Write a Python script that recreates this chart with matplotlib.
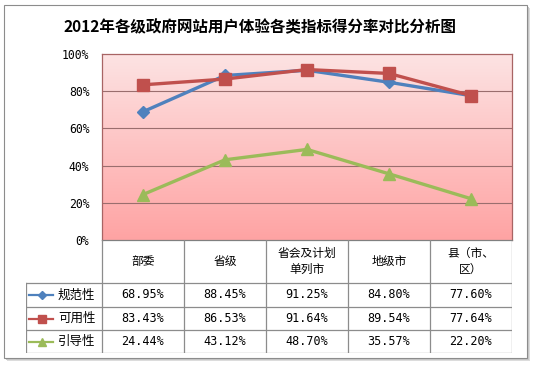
import numpy as np
import matplotlib
matplotlib.use('Agg')
import matplotlib.pyplot as plt
from matplotlib.patches import Rectangle

plt.rcParams['font.family'] = ['Noto Sans CJK SC', 'DejaVu Sans']

title = '2012年各级政府网站用户体验各类指标得分率对比分析图'
categories = ['部委', '省级', '省会及计划\n单列市', '地级市', '县（市、\n区）']
series_names = ['规范性', '可用性', '引导性']
guifan = [68.95, 88.45, 91.25, 84.80, 77.60]
keyong = [83.43, 86.53, 91.64, 89.54, 77.64]
yindao = [24.44, 43.12, 48.70, 35.57, 22.20]
yticks = [0, 20, 40, 60, 80, 100]

colors = ['#4F81BD', '#C0504D', '#9BBB59']
markers = ['D', 's', '^']
msizes = [6, 8, 8]

W, H = 534, 368
fig = plt.figure(figsize=(W / 100, H / 100), dpi=100)
fig.patch.set_facecolor('white')


def box(x0, y0, x1, y1):
    # pixel box (top-left origin) -> figure fraction rect
    return [x0 / W, 1 - y1 / H, (x1 - x0) / W, (y1 - y0) / H]


# outer frame with a soft shadow
for k, (off, c) in enumerate([(3, '#dcdcdc'), (2, '#c8c8c8'), (1, '#acacac')]):
    fig.patches.append(Rectangle((4 / W + off / W, 1 - 358 / H - off / H), 523 / W, 353 / H,
                                 transform=fig.transFigure, facecolor=c, edgecolor='none',
                                 zorder=-5 + k))
fig.patches.append(Rectangle((4 / W, 1 - 358 / H), 523 / W, 353 / H, transform=fig.transFigure,
                             facecolor='white', edgecolor='#8c8c8c', lw=0.8, zorder=-1))

fig.text(260 / W, 1 - 27 / H, title, ha='center', va='center', fontsize=11.2, fontweight='bold')

# main plot area
ax = fig.add_axes(box(102, 54, 512, 240))
x = np.arange(len(categories))
ax.set_xlim(-0.5, len(categories) - 0.5)

grad = np.linspace(0, 1, 256).reshape(-1, 1)
top = np.array([0.99, 0.89, 0.89])
bot = np.array([1.0, 0.64, 0.64])
img = top * (1 - grad[..., None]) + bot * grad[..., None]
ax.imshow(img, extent=(-0.5, len(categories) - 0.5, 0, 100), origin='upper',
          aspect='auto', zorder=0)
ax.set_ylim(0, 100)

for yv in yticks[1:-1]:
    ax.axhline(yv, color='#9a6e6e', lw=0.8, zorder=1)

for vals, c, m, ms in zip([guifan, keyong, yindao], colors, markers, msizes):
    ax.plot(x, vals, color=c, lw=2.4, marker=m, markersize=ms, markeredgecolor=c,
            markerfacecolor=c, zorder=3)

for s in ax.spines.values():
    s.set_color('#a86464')
    s.set_linewidth(0.9)
ax.spines['bottom'].set_color('#808080')
ax.set_xticks([])
ax.set_yticks(yticks)
ax.set_yticklabels([f'{v}%' for v in yticks], fontsize=8.3, family=['DejaVu Sans Mono'])
ax.tick_params(axis='y', length=0, pad=9)

# data table below the plot
tab = fig.add_axes(box(26, 240, 512, 353))
left = -0.5 - 76 / 82
tab.set_xlim(left, len(categories) - 0.5)
tab.set_ylim(113, 0)
tab.axis('off')
lc = '#8c8c8c'
rows_y = [43, 67, 90, 113]
for xv in np.arange(-0.5, len(categories), 1.0):
    tab.plot([xv, xv], [0, 113], color=lc, lw=0.9)
tab.plot([left, left], [43, 113], color=lc, lw=0.9)
for yv in rows_y:
    tab.plot([left, len(categories) - 0.5], [yv, yv], color=lc, lw=0.9)

for i, cat in enumerate(categories):
    tab.text(i, 21.5, cat, ha='center', va='center', fontsize=8.5, linespacing=1.35)

row_c = [55, 78.5, 101.5]
key_ms = [4, 5.5, 5.5]
for r, (name, vals, c, m, ms) in enumerate(zip(series_names, [guifan, keyong, yindao],
                                               colors, markers, key_ms)):
    yc = row_c[r]
    tab.plot([left + 0.04, left + 0.33], [yc, yc], color=c, lw=1.6)
    tab.plot([left + 0.19], [yc], marker=m, color=c, markersize=ms)
    tab.text(left + 0.39, yc, name, ha='left', va='center', fontsize=9)
    for i, v in enumerate(vals):
        tab.text(i, yc, f'{v:.2f}%', ha='center', va='center', fontsize=8.5,
                 family=['DejaVu Sans Mono'])

fig.savefig('out.png', dpi=100)
